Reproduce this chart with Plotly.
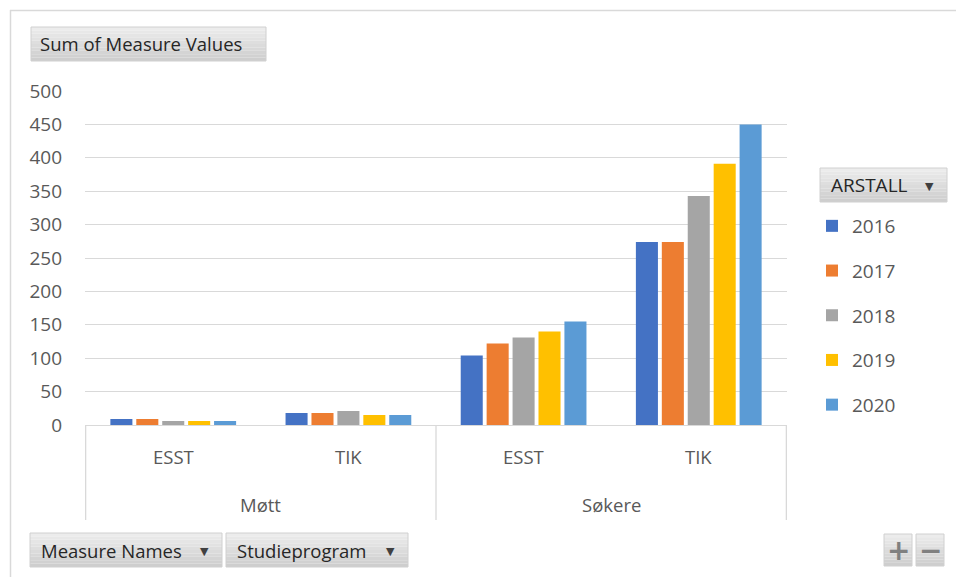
import plotly.graph_objects as go

# ---------------- data ----------------
measures = ["Møtt", "Møtt", "Søkere", "Søkere"]
programs = ["ESST", "TIK", "ESST", "TIK"]
years = ["2016", "2017", "2018", "2019", "2020"]
v2016 = [9, 18, 104, 274]
v2017 = [9, 18, 122, 274]
v2018 = [6, 21, 131, 343]
v2019 = [6, 15, 140, 391]
v2020 = [6, 15, 155, 450]
series = [v2016, v2017, v2018, v2019, v2020]
colors = ["#4472C4", "#ED7D31", "#A5A5A5", "#FFC000", "#5B9BD5"]
y_ticks = [0, 50, 100, 150, 200, 250, 300, 350, 400, 450, 500]

# ---------------- layout geometry ----------------
W, H = 956, 577
ML, MR, MT, MB = 85, 169, 91, 152
PW, PH = W - ML - MR, H - MT - MB


def px(x):
    return (x - ML) / PW


def py(y):
    return (H - MB - y) / PH


cats = [f"{m}|{p}" for m, p in zip(measures, programs)]

fig = go.Figure()
for yr, vals, col in zip(years, series, colors):
    fig.add_trace(go.Bar(
        x=cats, y=vals, name=yr, marker=dict(color=col, line=dict(width=0)),
        legendgroup=yr,
    ))

grey_text = "#595959"
font_main = "Open Sans"
shapes = []
annotations = []

# inner category labels
for c, p in zip(cats, programs):
    annotations.append(dict(x=c, xref="x", y=0, yref="paper", yanchor="middle",
                            yshift=-31, text=p, showarrow=False,
                            font=dict(size=18.5, color=grey_text, family=font_main)))
# outer category labels
for m in dict.fromkeys(measures):
    idx = [i for i, mm in enumerate(measures) if mm == m]
    annotations.append(dict(x=sum(idx) / len(idx), xref="x", y=0, yref="paper",
                            yanchor="middle", yshift=-79, text=m, showarrow=False,
                            font=dict(size=18.5, color=grey_text, family=font_main)))
# dividers between outer groups
bounds = [-0.5]
for i in range(1, len(measures)):
    if measures[i] != measures[i - 1]:
        bounds.append(i - 0.5)
bounds.append(len(measures) - 0.5)
for b in bounds:
    shapes.append(dict(type="line", xref="x", yref="paper", x0=b, x1=b,
                       y0=0, y1=py(520), line=dict(color="#d9d9d9", width=1.3)))

# chart border (top & left)
shapes.append(dict(type="line", xref="paper", yref="paper", x0=px(10), x1=px(956),
                   y0=py(10.5), y1=py(10.5), line=dict(color="#d9d9d9", width=1.5)))
shapes.append(dict(type="line", xref="paper", yref="paper", x0=px(10.5), x1=px(10.5),
                   y0=py(10), y1=py(577), line=dict(color="#d9d9d9", width=1.5)))


def button(x0, y0, x1, y1, text=None, arrow=False, tx=None, size=18.5):
    n = 10
    top, bot = (236, 236, 236), (206, 206, 206)
    for k in range(n):
        t = k / (n - 1)
        c = tuple(int(top[j] + (bot[j] - top[j]) * t) for j in range(3))
        ya = y0 + (y1 - y0) * k / n
        yb = y0 + (y1 - y0) * (k + 1) / n
        shapes.append(dict(type="rect", xref="paper", yref="paper",
                           x0=px(x0), x1=px(x1), y0=py(ya), y1=py(yb),
                           fillcolor="rgb(%d,%d,%d)" % c, line=dict(width=0), layer="above"))
    shapes.append(dict(type="rect", xref="paper", yref="paper",
                       x0=px(x0), x1=px(x1), y0=py(y0), y1=py(y1),
                       line=dict(color="#d0d0d0", width=1), layer="above"))
    if text:
        annotations.append(dict(x=px(tx if tx else x0 + 10), xref="paper", xanchor="left",
                                y=py((y0 + y1) / 2), yref="paper", yanchor="middle",
                                text=text, showarrow=False,
                                font=dict(size=size, color="#262626", family=font_main)))
    if arrow:
        annotations.append(dict(x=px(x1 - 18), xref="paper", xanchor="center",
                                y=py((y0 + y1) / 2 + 1), yref="paper", yanchor="middle",
                                text="▼", showarrow=False,
                                font=dict(size=11, color="#404040", family="DejaVu Sans")))


button(31, 27, 266, 61, "Sum of Measure Values", tx=38)
button(820, 168, 947, 202, "ARSTALL", arrow=True, tx=829, size=19)
button(30, 533, 222, 567, "Measure Names", arrow=True, tx=39)
button(226, 533, 408, 567, "Studieprogram", arrow=True, tx=235)
button(884, 534, 912, 566)
button(916, 534, 944, 566)
annotations.append(dict(x=px(898), xref="paper", y=py(550), yref="paper",
                        xanchor="center", yanchor="middle",
                        text="<b>+</b>", showarrow=False,
                        font=dict(size=28, color="#808080", family="DejaVu Sans")))
annotations.append(dict(x=px(930), xref="paper", y=py(550), yref="paper",
                        xanchor="center", yanchor="middle",
                        text="<b>−</b>", showarrow=False,
                        font=dict(size=28, color="#808080", family="DejaVu Sans")))

fig.update_layout(
    width=W, height=H,
    margin=dict(l=ML, r=MR, t=MT, b=MB),
    paper_bgcolor="white", plot_bgcolor="white",
    barmode="group", bargap=0.26, bargroupgap=0.15,
    showlegend=True,
    legend=dict(x=px(812), xanchor="left", y=py(207), yanchor="top",
                font=dict(size=19, color=grey_text, family=font_main),
                itemwidth=30, tracegroupgap=17, bgcolor="rgba(0,0,0,0)"),
    xaxis=dict(type="category", showticklabels=False, showgrid=False,
               showline=True, linecolor="#d9d9d9", linewidth=1.3,
               ticks="", zeroline=False, fixedrange=True),
    yaxis=dict(range=[0, 500], tickvals=y_ticks, showgrid=True,
               gridcolor="#d9d9d9", gridwidth=1.3, zeroline=False,
               showline=False, ticks="", ticklabelstandoff=22,
               tickfont=dict(size=19, color=grey_text, family=font_main)),
    shapes=shapes, annotations=annotations,
)

fig.write_html("out.html", config={"displayModeBar": False},
               post_script="document.body.style.margin='0px';")
